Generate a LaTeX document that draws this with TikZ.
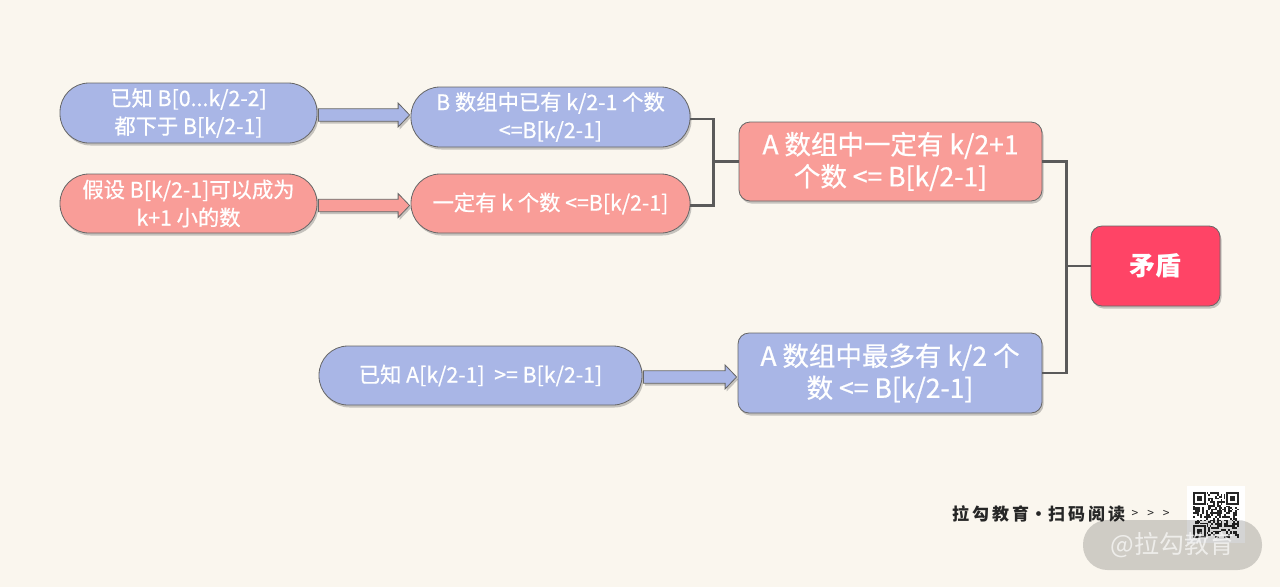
\documentclass[tikz,border=0pt]{standalone}
\usepackage{fontspec}
\setmainfont{Noto Sans CJK SC}[UprightFeatures={FakeBold=0.7}]
\newfontfamily\plainfont{Noto Sans CJK SC}
\usetikzlibrary{calc,shadows}
\definecolor{bgc}{HTML}{FAF6EE}
\definecolor{bluef}{HTML}{A9B6E6}
\definecolor{redf}{HTML}{F99D98}
\definecolor{hotf}{HTML}{FF4466}
\definecolor{edge}{HTML}{666666}
\definecolor{lnc}{HTML}{5A5A5A}
\tikzset{
  shd/.style={drop shadow={shadow xshift=1.5pt,shadow yshift=-2.5pt,opacity=.3,fill=black!70}},
  pill/.style={shape=rectangle,draw=edge,line width=0.8pt,rounded corners=29pt,inner sep=0pt,
     align=center,text=white,font=\fontsize{21.3}{28}\selectfont,shd},
  rbox/.style={shape=rectangle,draw=edge,line width=0.8pt,rounded corners=11pt,inner sep=0pt,
     align=center,text=white,shd},
  conn/.style={draw=lnc,line width=2.6pt},
  barrow/.style={draw=edge,line width=0.8pt,shd},
}
\newcommand\blkarrow[4]{%
  \path[barrow,fill=#1] let \p1=(#2.east), \p2=(#3.west),
     \p3=($(#2.east)!.5!(#3.west)+(0,#4)$) in
    (\x1+1pt,\y3+6.2pt) -- (\x2-12.5pt,\y3+6.2pt) -- (\x2-12.5pt,\y3+12pt) -- (\x2-1pt,\y3)
    -- (\x2-12.5pt,\y3-12pt) -- (\x2-12.5pt,\y3-6.2pt) -- (\x1+1pt,\y3-6.2pt) -- cycle;}
\begin{document}
\begin{tikzpicture}[x=1pt,y=-1pt]
\fill[bgc] (0,0) rectangle (1280,587);
\useasboundingbox (0,0) rectangle (1280,587);

\node[pill,fill=bluef,minimum width=257,minimum height=60] (n1) at (188.5,113)
  {已知 B[0...k/2-2]\\都下于 B[k/2-1]};
\node[pill,fill=redf,minimum width=257,minimum height=59] (n2) at (188.5,203.5)
  {假设 B[k/2-1]可以成为\\k+1 小的数};
\node[pill,fill=bluef,minimum width=279,minimum height=60] (n3) at (550.5,117)
  {B 数组中已有 k/2-1 个数\\<=B[k/2-1]};
\node[pill,fill=redf,minimum width=279,minimum height=59] (n4) at (550.5,203.5)
  {一定有 k 个数 <=B[k/2-1]};
\node[rbox,fill=redf,minimum width=303,minimum height=79,font=\fontsize{26.5}{32}\selectfont] (n5) at (890.5,161.5)
  {A 数组中一定有 k/2+1\\个数 <= B[k/2-1]};
\node[rbox,fill=hotf,minimum width=129,minimum height=80,font=\fontsize{26}{30}\selectfont\bfseries] (n6) at (1155.5,266)
  {矛盾};
\node[pill,fill=bluef,minimum width=323,minimum height=59] (n7) at (480.5,375.5)
  {已知 A[k/2-1]\ \ >= B[k/2-1]};
\node[rbox,fill=bluef,minimum width=304,minimum height=80,font=\fontsize{26.5}{32}\selectfont] (n8) at (890,373)
  {A 数组中最多有 k/2 个\\数 <= B[k/2-1]};

\blkarrow{bluef}{n1}{n3}{0}
\blkarrow{redf}{n2}{n4}{2}
\blkarrow{bluef}{n7}{n8}{2.7}

\coordinate (j1) at ($(n3.east)+(23,2)$);
\draw[conn] ($(n3.east)+(0,2)$) -- (j1) |- ($(n4.east)+(0,2)$);
\draw[conn] (n5.west) -- (n5.west -| j1);
\coordinate (j2) at ($(n5.east)+(24,0)$);
\draw[conn] (n5.east) -- (j2) |- (n8.east);
\draw[conn] (n6.west) -- (n6.west -| j2);

% footer
\node[anchor=west,inner sep=0pt,text=black!85,font=\plainfont\fontsize{17}{20}\selectfont\bfseries] (wm) at (952,514)
  {拉\hspace{3pt}勾\hspace{3pt}教\hspace{3pt}育\hspace{1pt}·\hspace{1pt}扫\hspace{3pt}码\hspace{3pt}阅\hspace{3pt}读};
\node[anchor=west,inner sep=0pt,text=black!85,font=\plainfont\fontsize{12}{12}\selectfont] (ar) at (wm.east)
  {\hspace{6pt}>\hspace{9pt}>\hspace{9pt}>};
\fill[white] (1187,486) rectangle (1245,543);
\pgfmathsetseed{7}
\foreach \i in {0,...,24}{\foreach \j in {0,...,24}{
  \pgfmathparse{rnd>0.5?1:0}
  \ifnum\pgfmathresult=1 \fill[black!85] ({1193+\i*1.84},{492+\j*1.84}) rectangle ++(1.84,1.84);\fi}}
\foreach \ox/\oy in {1193/492, 1226.1/492, 1193/525.1}{
  \fill[white] (\ox-1,\oy-1) rectangle ++(14.9,14.9);
  \fill[black!85] (\ox,\oy) rectangle ++(12.9,12.9);
  \fill[white] (\ox+1.84,\oy+1.84) rectangle ++(9.2,9.2);
  \fill[black!85] (\ox+3.68,\oy+3.68) rectangle ++(5.5,5.5);}
\node[shape=rectangle,fill=black,fill opacity=0.17,rounded corners=24.5pt,minimum width=179,minimum height=50,inner sep=0pt] (wp) at (1172.5,545) {};
\node[text=white,text opacity=0.65,font=\plainfont\fontsize{25}{28}\selectfont,inner sep=0pt] (wt) at (wp) {@拉勾教育};
\end{tikzpicture}
\end{document}
